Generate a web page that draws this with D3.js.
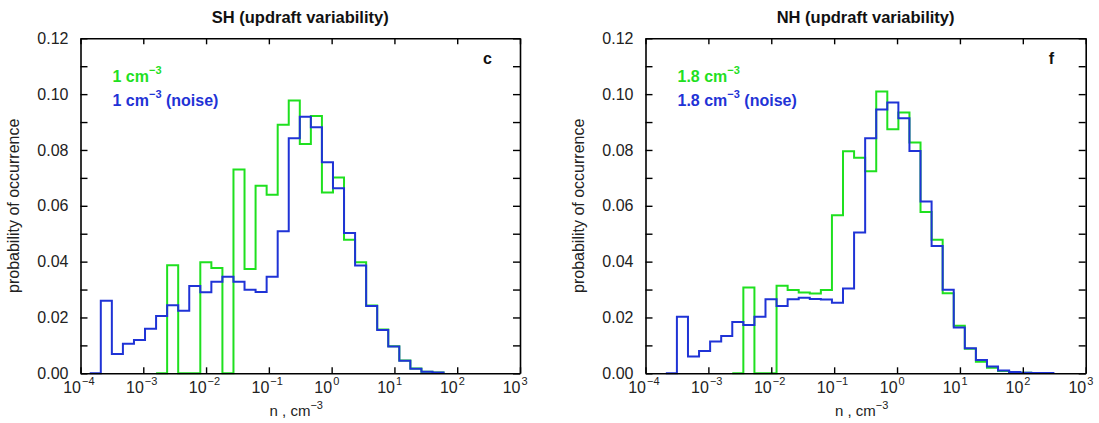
<!DOCTYPE html>
<html>
<head>
<meta charset="utf-8">
<script src="https://cdn.jsdelivr.net/npm/d3@7"></script>
<style>
  body { margin: 0; background: #fff; }
  svg { font-family: "Liberation Sans", Arial, Helvetica, sans-serif; }
</style>
</head>
<body>
<div id="chart"></div>
<script>
// histogram bins: edges = binBase * binRatio^k
const binBase = 1.05;
const binRatio = 1.5;

// SH panel
const shGreenStart = -16;
const shGreen = [0, 0.0387, 0, 0, 0.0398, 0.0377, 0, 0.0730, 0.0374, 0.0672, 0.0640, 0.0890, 0.0977,
  0.0821, 0.0922, 0.0648, 0.0701, 0.0478, 0.0398, 0.0243, 0.0157, 0.0097, 0.0046, 0.0017, 0.0006, 0.0003];
const shBlueStart = -22;
const shBlue = [0, 0.0260, 0.0069, 0.0106, 0.0119, 0.0160, 0.0205, 0.0244, 0.0224, 0.0313, 0.0290, 0.0328,
  0.0346, 0.0328, 0.0299, 0.0291, 0.0346, 0.0509, 0.0842, 0.0919, 0.0881, 0.0756, 0.0663, 0.0503, 0.0386,
  0.0241, 0.0155, 0.0096, 0.0045, 0.0016, 0.0006, 0.0003];

// NH panel
const nhGreenStart = -15;
const nhGreen = [0, 0.0307, 0, 0, 0.0314, 0.0298, 0.0289, 0.0286, 0.0298, 0.0566, 0.0795, 0.0772, 0.0724,
  0.1009, 0.0874, 0.0934, 0.0827, 0.0578, 0.0478, 0.0287, 0.0170, 0.0088, 0.0041, 0.0020, 0.0008, 0.0004, 0.0002];
const nhBlueStart = -21;
const nhBlue = [0, 0.0203, 0.0060, 0.0080, 0.0114, 0.0134, 0.0184, 0.0173, 0.0203, 0.0265, 0.0241, 0.0265,
  0.0271, 0.0266, 0.0264, 0.0253, 0.0304, 0.0504, 0.0842, 0.0945, 0.0970, 0.0914, 0.0796, 0.0615, 0.0456,
  0.0299, 0.0164, 0.0090, 0.0048, 0.0024, 0.0010, 0.0005, 0.0002, 0.0001, 0.0001];

const xTickExps = [-4, -3, -2, -1, 0, 1, 2, 3];
const yTicks = [0, 0.01, 0.02, 0.03, 0.04, 0.05, 0.06, 0.07, 0.08, 0.09, 0.10, 0.11, 0.12];

const panels = [
  { title: "SH (updraft variability)", letter: "c", conc: "1", left: 80.5, right: 520,
    green: shGreen, greenStart: shGreenStart, blue: shBlue, blueStart: shBlueStart },
  { title: "NH (updraft variability)", letter: "f", conc: "1.8", left: 645.5, right: 1085.7,
    green: nhGreen, greenStart: nhGreenStart, blue: nhBlue, blueStart: nhBlueStart }
];

const green = "#1fe01f";
const blue = "#1f33d6";
const plotTop = 38.3, plotBottom = 373.3;

const svg = d3.select("#chart").append("svg")
  .attr("width", 1099)
  .attr("height", 423);
svg.append("rect").attr("width", 1099).attr("height", 423).attr("fill", "#fff");

function stepPoints(values, start) {
  const pts = values.map((v, i) => [binBase * Math.pow(binRatio, start + i), v]);
  const endEdge = binBase * Math.pow(binRatio, start + values.length);
  pts.push([endEdge, values[values.length - 1]]);
  pts.push([endEdge, 0]);
  return pts;
}

panels.forEach(p => {
  const w = p.right - p.left;
  const h = plotBottom - plotTop;
  const g = svg.append("g").attr("transform", `translate(${p.left},${plotTop})`);

  const x = d3.scaleLog().domain([1e-4, 1e3]).range([0, w]);
  const y = d3.scaleLinear().domain([0, 0.12]).range([h, 0]);

  const line = d3.line()
    .x(d => x(d[0]))
    .y(d => y(d[1]))
    .curve(d3.curveStepAfter);

  g.append("path")
    .datum(stepPoints(p.green, p.greenStart))
    .attr("d", line)
    .attr("fill", "none")
    .attr("stroke", green)
    .attr("stroke-width", 2);

  g.append("path")
    .datum(stepPoints(p.blue, p.blueStart))
    .attr("d", line)
    .attr("fill", "none")
    .attr("stroke", blue)
    .attr("stroke-width", 2);

  const xTicks = xTickExps.map(e => Math.pow(10, e));

  // axes, ticks pointing inward
  const axB = g.append("g").attr("transform", `translate(0,${h})`)
    .call(d3.axisBottom(x).tickValues(xTicks).tickSizeInner(-6).tickSizeOuter(0).tickFormat(""));
  const axT = g.append("g")
    .call(d3.axisTop(x).tickValues(xTicks).tickSizeInner(-6).tickSizeOuter(0).tickFormat(""));
  const axL = g.append("g")
    .call(d3.axisLeft(y).tickValues(yTicks).tickSizeInner(-7).tickSizeOuter(0).tickPadding(12)
      .tickFormat(d => Math.round(d * 100) % 2 === 0 ? d3.format(".2f")(d) : ""));
  const axR = g.append("g").attr("transform", `translate(${w},0)`)
    .call(d3.axisRight(y).tickValues(yTicks).tickSizeInner(-7).tickSizeOuter(0).tickFormat(""));

  [axB, axT, axL, axR].forEach(a => {
    a.select(".domain").attr("stroke", "#000").attr("stroke-width", 1.6);
    a.selectAll(".tick line").attr("stroke", "#000").attr("stroke-width", 1.4);
  });
  axL.selectAll(".tick text")
    .attr("font-size", "16px")
    .attr("font-family", "Liberation Sans, Arial, sans-serif")
    .attr("fill", "#222");

  // x tick labels 10^n
  const xl = g.append("g").attr("font-size", "16px").attr("fill", "#222");
  xTickExps.forEach(e => {
    const tx = x(Math.pow(10, e));
    xl.append("text")
      .attr("x", tx + 0.5)
      .attr("y", h + 20)
      .attr("text-anchor", "end")
      .text("10");
    xl.append("text")
      .attr("x", tx + 1.5)
      .attr("y", h + 12)
      .attr("font-size", "11px")
      .text(e < 0 ? "\u2212" + Math.abs(e) : String(e));
  });

  // x axis title
  const xt = g.append("text")
    .attr("x", w / 2 - 4)
    .attr("y", h + 43)
    .attr("text-anchor", "middle")
    .attr("font-size", "15px")
    .attr("fill", "#222");
  xt.append("tspan").text("n , cm");
  xt.append("tspan").attr("dy", -7).attr("font-size", "11px").text("\u22123");

  // y axis title
  g.append("text")
    .attr("transform", `translate(-62,${h / 2}) rotate(-90)`)
    .attr("text-anchor", "middle")
    .attr("font-size", "16px")
    .attr("fill", "#222")
    .text("probability of occurrence");

  // panel title
  g.append("text")
    .attr("x", w / 2)
    .attr("y", -15)
    .attr("text-anchor", "middle")
    .attr("font-size", "16.5px")
    .attr("font-weight", "bold")
    .attr("fill", "#111")
    .text(p.title);

  // panel letter
  g.append("text")
    .attr("x", w - 37)
    .attr("y", 26)
    .attr("font-size", "16px")
    .attr("font-weight", "bold")
    .attr("fill", "#111")
    .text(p.letter);

  // legend
  const lg = g.append("g").attr("font-size", "16px").attr("font-weight", "bold");
  const t1 = lg.append("text").attr("x", 32).attr("y", 43.5).attr("fill", green);
  t1.append("tspan").text(p.conc + " cm");
  t1.append("tspan").attr("dy", -8).attr("font-size", "11px").text("\u22123");
  const t2 = lg.append("text").attr("x", 32).attr("y", 67.5).attr("fill", blue);
  t2.append("tspan").text(p.conc + " cm");
  t2.append("tspan").attr("dy", -8).attr("font-size", "11px").text("\u22123");
  t2.append("tspan").attr("dy", 8).text(" (noise)");
});
</script>
</body>
</html>
